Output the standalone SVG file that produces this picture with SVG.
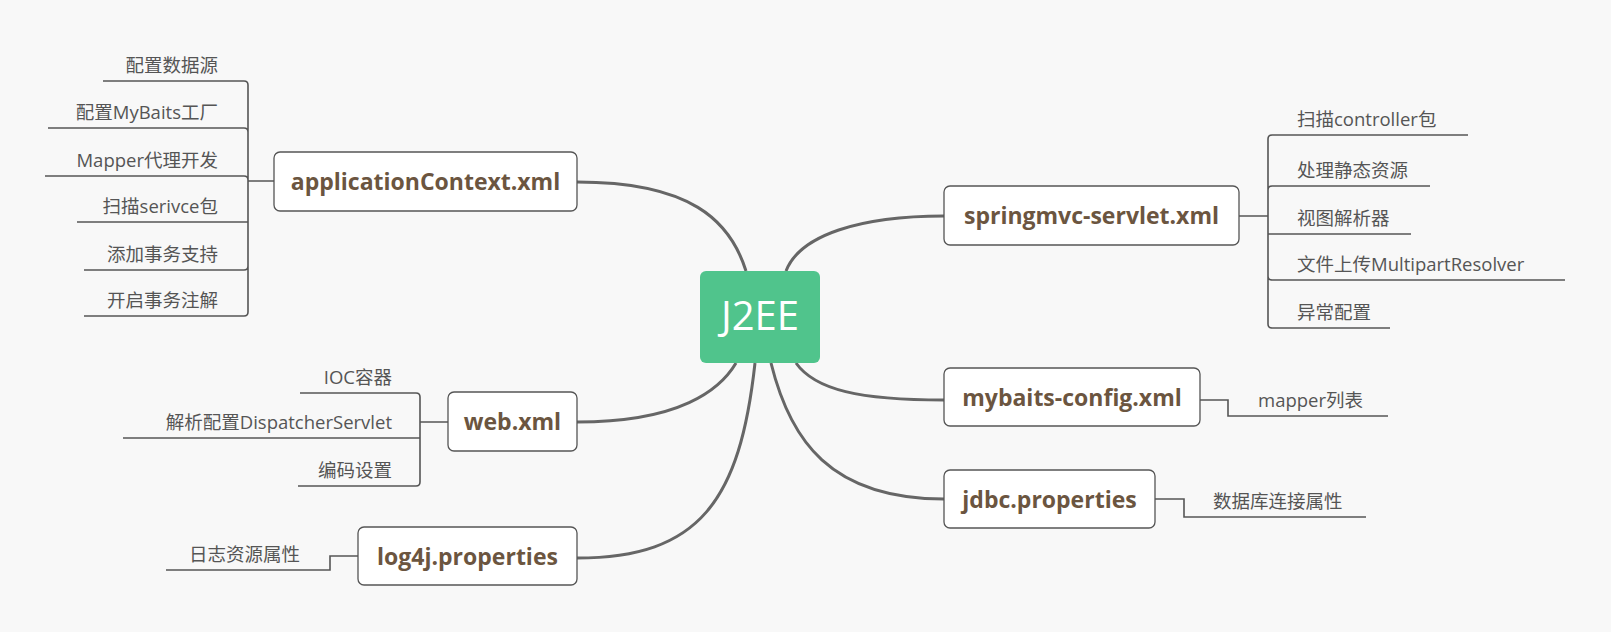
<svg xmlns="http://www.w3.org/2000/svg" width="1611" height="632" viewBox="0 0 1611 632">
<style>
.n{fill:#fff;stroke:#555;stroke-width:1.3}
.nt{font-family:"Open Sans","Noto Sans CJK SC",sans-serif;font-weight:bold;font-size:23px;fill:#6b5540;text-anchor:middle}
.l{font-family:"Open Sans","Noto Sans CJK SC",sans-serif;font-size:18.5px;fill:#555}
.r{text-anchor:end}
.c{fill:none;stroke:#666;stroke-width:3}
.b{fill:none;stroke:#555;stroke-width:1.6}
</style>
<rect width="1611" height="632" fill="#f8f8f8"/>
<g id="connectors">
<path class="c" d="M577,182 C690,182 730,220 746,271"/>
<path class="c" d="M944,216 C860,216 800,235 786,271"/>
<path class="c" d="M944,400 C860,400 815,390 796,363"/>
<path class="c" d="M944,499 C830,499 790,440 771,363"/>
<path class="c" d="M577,422 C680,422 720,390 736,363"/>
<path class="c" d="M577,558 C700,558 740,500 755,363"/>
<path class="b" d="M103,81 H244 Q248,81 248,85 V312 Q248,316 244,316 H84 M48,128 H244 Q248,128 248,132 M45,176 H244 Q248,176 248,180 M77,222 H248 M84,270 H244 Q248,270 248,266 M248,181 H274"/>
<path class="b" d="M1468,135 H1272 Q1268,135 1268,139 V324 Q1268,328 1272,328 H1390 M1430,186 H1272 Q1268,186 1268,190 M1411,234 H1268 M1565,280 H1272 Q1268,280 1268,276 M1239,216 H1268"/>
<path class="b" d="M300,393 H416 Q420,393 420,397 V482 Q420,486 416,486 H298 M123,438 H420 M420,422 H448"/>
<path class="b" d="M1200,400 H1228 V416 H1388"/>
<path class="b" d="M1155,499 H1184 V517 H1366"/>
<path class="b" d="M358,556 H330 V570 H166"/>
</g>
<g id="center"><rect x="700" y="271" width="120" height="92" rx="6" fill="#50c48c"/><text x="760" y="330" font-family="Open Sans,sans-serif" font-size="40" fill="#fff" text-anchor="middle">J2EE</text></g>
<g id="appctx"><rect class="n" x="274" y="152" width="303" height="59" rx="6"/><text class="nt" x="425.5" y="190">applicationContext.xml</text></g>
<g id="springmvc"><rect class="n" x="944" y="186" width="295" height="59" rx="6"/><text class="nt" x="1091.5" y="224">springmvc-servlet.xml</text></g>
<g id="mybaits"><rect class="n" x="944" y="368" width="256" height="58" rx="6"/><text class="nt" x="1072" y="406">mybaits-config.xml</text></g>
<g id="jdbc"><rect class="n" x="944" y="470" width="211" height="58" rx="6"/><text class="nt" x="1049.5" y="508">jdbc.properties</text></g>
<g id="web"><rect class="n" x="448" y="392" width="129" height="59" rx="6"/><text class="nt" x="512.5" y="430">web.xml</text></g>
<g id="log4j"><rect class="n" x="358" y="527" width="219" height="58" rx="6"/><text class="nt" x="467.5" y="565">log4j.properties</text></g>
<g id="leaves">
<text class="l r" x="218" y="72">配置数据源</text>
<text class="l r" x="218" y="119">配置MyBaits工厂</text>
<text class="l r" x="218" y="167">Mapper代理开发</text>
<text class="l r" x="218" y="213">扫描serivce包</text>
<text class="l r" x="218" y="261">添加事务支持</text>
<text class="l r" x="218" y="307">开启事务注解</text>
<text class="l" x="1297" y="126">扫描controller包</text>
<text class="l" x="1297" y="177">处理静态资源</text>
<text class="l" x="1297" y="225">视图解析器</text>
<text class="l" x="1297" y="271">文件上传MultipartResolver</text>
<text class="l" x="1297" y="319">异常配置</text>
<text class="l r" x="392" y="384">IOC容器</text>
<text class="l r" x="392" y="429">解析配置DispatcherServlet</text>
<text class="l r" x="392" y="477">编码设置</text>
<text class="l" x="1258" y="407">mapper列表</text>
<text class="l" x="1213" y="508">数据库连接属性</text>
<text class="l r" x="300" y="561">日志资源属性</text>
</g>
</svg>
